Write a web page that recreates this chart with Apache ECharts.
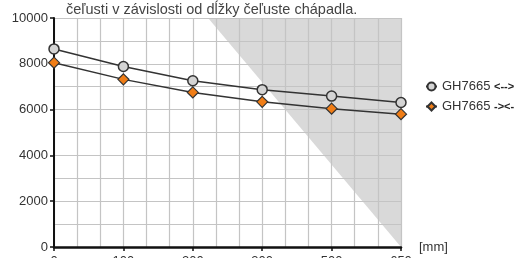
<!DOCTYPE html>
<html>
<head>
<meta charset="utf-8">
<script src="https://cdn.jsdelivr.net/npm/echarts@6/dist/echarts.min.js"></script>
<style>
  html, body { margin: 0; padding: 0; background: #fff; }
  #chart { width: 518px; height: 258px; }
</style>
</head>
<body>
<div id="chart"></div>
<script>
// jaw length categories (shown evenly spaced)
const lengths = ['0', '100', '200', '300', '500', '650'];
const openForce = [8650, 7880, 7260, 6870, 6590, 6310];   // GH7665 <-->
const closeForce = [8050, 7320, 6750, 6340, 6040, 5800];  // GH7665 -><-
// shaded (not allowed) region, in axis units
const shadeArea = [[2.22, 10000], [5, 10000], [5, 0]];

const chart = echarts.init(document.getElementById('chart'));
const font = 'Liberation Sans, Arial, sans-serif';
const gridColor = '#c4c4c4';

const toPairs = arr => arr.map((v, i) => [i, v]);

const option = {
    animation: false,
    title: {
        text: 'čeľusti v závislosti od dĺžky čeľuste chápadla.',
        left: 61,
        top: -3,
        textStyle: { fontFamily: font, fontSize: 14.5, fontWeight: 'normal', color: '#444' }
    },
    grid: { left: 54, right: 117, top: 18, bottom: 11, containLabel: false, outerBoundsMode: 'none' },
    legend: {
        orient: 'vertical',
        left: 420,
        top: 75,
        itemGap: 7,
        itemWidth: 11,
        itemHeight: 10,
        textStyle: {
            fontFamily: font, fontSize: 13, color: '#333',
            rich: { b: { fontFamily: font, fontSize: 11, fontWeight: 'bold', color: '#222' } }
        },
        formatter: name => name === 'open' ? 'GH7665 {b|<-->}' : 'GH7665 {b|-><-}',
        data: ['open', 'close']
    },
    xAxis: {
        type: 'value',
        min: 0,
        max: 5,
        interval: 1,
        name: '[mm]',
        nameLocation: 'end',
        nameGap: 18,
        nameTextStyle: { fontFamily: font, fontSize: 13, color: '#333', verticalAlign: 'middle' },
        axisLine: { lineStyle: { color: '#111', width: 2.5 } },
        axisTick: { show: true, length: 4, lineStyle: { color: '#111', width: 1.5 } },
        axisLabel: {
            fontFamily: font, fontSize: 13, color: '#333', margin: 8,
            formatter: v => lengths[v] !== undefined ? lengths[v] : ''
        },
        splitLine: { show: true, lineStyle: { color: gridColor, width: 1.2 } },
        minorTick: { show: true, splitNumber: 3, length: 0 },
        minorSplitLine: { show: true, lineStyle: { color: gridColor, width: 1.2 } }
    },
    yAxis: {
        type: 'value',
        min: 0,
        max: 10000,
        interval: 2000,
        axisLine: { show: true, lineStyle: { color: '#111', width: 2 } },
        axisTick: { show: true, length: 4, lineStyle: { color: '#111', width: 1.5 } },
        axisLabel: { fontFamily: font, fontSize: 13, color: '#333', margin: 6, formatter: v => String(v) },
        splitLine: { show: true, lineStyle: { color: gridColor, width: 1.2 } },
        minorTick: { show: true, splitNumber: 2, length: 0 },
        minorSplitLine: { show: true, lineStyle: { color: gridColor, width: 1.2 } }
    },
    series: [
        {
            // shaded zone sits on its own lower layer so the grid stays visible over it
            type: 'custom',
            zlevel: -1,
            silent: true,
            data: [0],
            renderItem: (params, api) => ({
                type: 'polygon',
                shape: { points: shadeArea.map(p => api.coord(p)) },
                style: { fill: '#d9d9d9' }
            })
        },
        {
            name: 'open',
            type: 'line',
            data: toPairs(openForce),
            symbol: 'circle',
            symbolSize: 10,
            lineStyle: { color: '#333', width: 1.5 },
            itemStyle: { color: '#d4d4d4', borderColor: '#333', borderWidth: 1.5 },
            z: 3
        },
        {
            name: 'close',
            type: 'line',
            data: toPairs(closeForce),
            symbol: 'diamond',
            symbolSize: 11,
            lineStyle: { color: '#333', width: 1.5 },
            itemStyle: { color: '#f07d16', borderColor: '#333', borderWidth: 1.2 },
            z: 4
        }
    ]
};

chart.setOption(option);
</script>
</body>
</html>
